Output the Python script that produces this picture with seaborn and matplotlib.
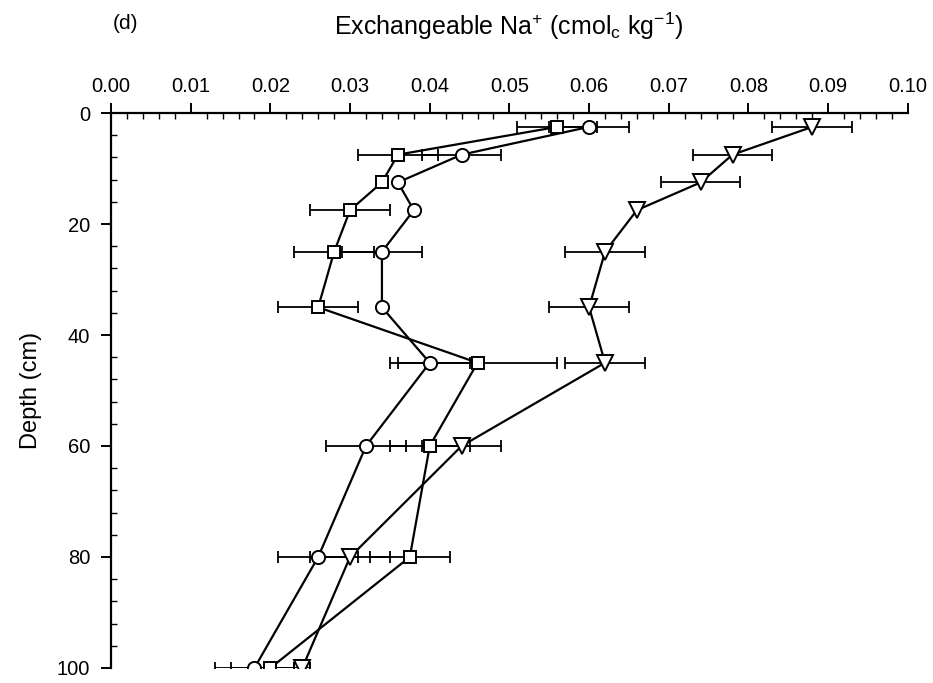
import numpy as np
import pandas as pd
import matplotlib
matplotlib.use("Agg")
import matplotlib.pyplot as plt
import seaborn as sns
from matplotlib.ticker import MultipleLocator

# ---- data ----
depth = [2.5, 7.5, 12.5, 17.5, 25, 35, 45, 60, 80, 100]
circle_vals = [0.060, 0.044, 0.036, 0.038, 0.034, 0.034, 0.040, 0.032, 0.026, 0.018]
circle_err = [0.005, 0.005, 0.0, 0.0, 0.005, 0.0, 0.005, 0.005, 0.005, 0.005]
square_vals = [0.056, 0.036, 0.034, 0.030, 0.028, 0.026, 0.046, 0.040, 0.0375, 0.020]
square_err = [0.005, 0.005, 0.0, 0.005, 0.005, 0.005, 0.010, 0.005, 0.005, 0.005]
tri_vals = [0.088, 0.078, 0.074, 0.066, 0.062, 0.060, 0.062, 0.044, 0.030, 0.024]
tri_err = [0.005, 0.005, 0.005, 0.0, 0.005, 0.005, 0.005, 0.005, 0.005, 0.001]

x_ticks = [0.00, 0.01, 0.02, 0.03, 0.04, 0.05, 0.06, 0.07, 0.08, 0.09, 0.10]
y_ticks = [0, 20, 40, 60, 80, 100]

sns.set_style("ticks")
plt.rcParams['font.family'] = ['Liberation Sans', 'DejaVu Sans']
plt.rcParams['mathtext.default'] = 'regular'
plt.rcParams['text.color'] = 'black'
plt.rcParams['axes.labelcolor'] = 'black'

df = pd.concat([
    pd.DataFrame({'depth': depth, 'val': circle_vals, 'err': circle_err, 'series': 'circle'}),
    pd.DataFrame({'depth': depth, 'val': square_vals, 'err': square_err, 'series': 'square'}),
    pd.DataFrame({'depth': depth, 'val': tri_vals, 'err': tri_err, 'series': 'tri'}),
], ignore_index=True)

fig = plt.figure(figsize=(9.33, 6.83), dpi=100)
ax = fig.add_axes([0.119, 0.022, 0.854, 0.8125])

# error bars
for s in ['circle', 'square', 'tri']:
    sub = df[(df.series == s) & (df.err > 0)]
    ax.errorbar(sub.val, sub.depth, xerr=sub.err, fmt='none', ecolor='black',
                elinewidth=1.3, capsize=4, capthick=1.3, zorder=2)

sns.lineplot(data=df, x='val', y='depth', style='series',
             markers={'circle': 'o', 'square': 's', 'tri': 'v'},
             dashes=False, color='black', sort=False, estimator=None,
             lw=1.6, ms=10, mfc='white', mec='black', mew=1.4,
             legend=False, ax=ax, zorder=3)

size_map = {'o': 9.5, 's': 9.0, 'v': 11.5}
for ln in ax.lines:
    m = ln.get_marker()
    if isinstance(m, str) and m in size_map:
        ln.set_markersize(size_map[m])

ax.set_xlim(0, 0.10)
ax.set_ylim(100, 0)
ax.xaxis.tick_top()
ax.xaxis.set_label_position('top')
ax.set_xticks(x_ticks)
ax.set_xticklabels([f"{t:.2f}" for t in x_ticks])
ax.set_yticks(y_ticks)
ax.xaxis.set_minor_locator(MultipleLocator(0.002))
ax.yaxis.set_minor_locator(MultipleLocator(4))
ax.tick_params(which='major', direction='out', length=7, width=1.4,
               labelsize=14.5, colors='black', labelcolor='black')
ax.tick_params(which='minor', direction='in', length=4, width=1.0, colors='black')
ax.tick_params(axis='x', which='both', top=True, bottom=False)
ax.tick_params(axis='x', which='major', pad=5)
ax.tick_params(axis='y', which='both', left=True, right=False)
ax.tick_params(axis='y', which='major', pad=8)
ax.spines['right'].set_visible(False)
ax.spines['bottom'].set_visible(False)
ax.spines['left'].set_linewidth(1.6)
ax.spines['top'].set_linewidth(1.6)
ax.spines['left'].set_color('black')
ax.spines['top'].set_color('black')
ax.set_xlabel('')
ax.set_ylabel('')
fig.text(0.033, 0.429, 'Depth (cm)', rotation=90, ha='center', va='center', fontsize=17)

fig.text(0.545, 0.962, r"Exchangeable Na$^{+}$ (cmol$_{c}$ kg$^{-1}$)",
         ha='center', va='center', fontsize=18)
fig.text(0.134, 0.966, "(d)", ha='center', va='center', fontsize=15)

fig.savefig('out.png', dpi=100)
